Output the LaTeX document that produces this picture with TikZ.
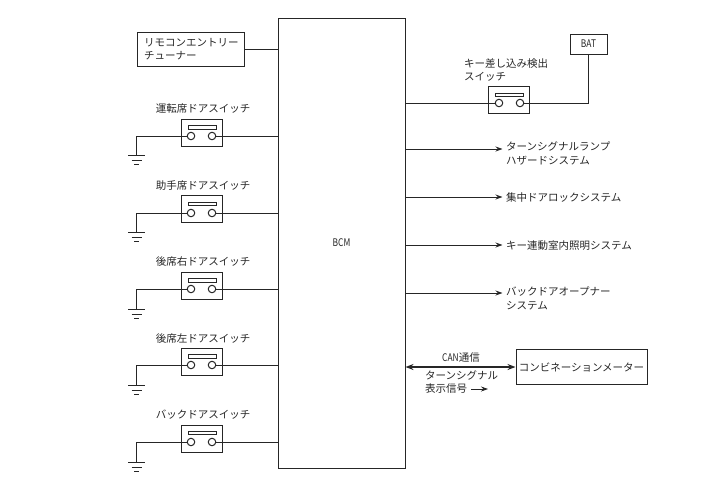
\documentclass[tikz,border=0pt]{standalone}
\usepackage{fontspec}
\setmainfont{Noto Sans CJK JP}
\usepackage{tikz}
\usetikzlibrary{arrows.meta, positioning}

\begin{document}
\begin{tikzpicture}[
    x=1pt, y=-1pt,
    every node/.style={font=\fontsize{10.5}{13.5}\selectfont, text=black!85},
    block/.style={draw=black!85, rectangle, line width=1pt, align=left, inner sep=0pt},
    swbox/.style={draw=black!85, rectangle, line width=1pt, minimum width=41pt, minimum height=27pt, inner sep=0pt},
    swbar/.style={draw=black!85, rectangle, line width=1pt, minimum width=28pt, minimum height=3.5pt, inner sep=0pt},
    contact/.style={draw=black!85, circle, line width=1pt, minimum size=7.5pt, inner sep=0pt},
    label/.style={inner sep=0pt, align=left, anchor=west},
    swlabel/.style={inner sep=0pt, align=center},
    wire/.style={draw=black!85, line width=1pt},
    arrow/.style={wire, -{Stealth[length=7pt, width=5pt]}},
    gnd/.pic={
        \draw[wire] (-8.5,0) -- (8.5,0);
        \draw[wire] (-5,5) -- (5,5);
        \draw[wire] (-2.5,9) -- (2.5,9);
    },
]
\useasboundingbox (0,0) rectangle (719,488);

% BCM
\node[block, align=center, minimum width=127pt, minimum height=450pt] (bcm) at (341.5,243) {\scalebox{0.8}[1]{BCM}};

% Remote entry tuner
\node[block, minimum width=107pt, minimum height=34pt, text width=93pt, inner xsep=7pt] (tuner) at (190.5,49) {リモコンエントリー\\チューナー};
\draw[wire] (tuner.east) -- (tuner.east -| bcm.west);

% Driver door switch
\node[swlabel] (sw1_text) at (203,109) {運転席ドアスイッチ};
\node[swbox] (sw1) at (201.5,133) {};
\node[swbar] (sw1_bar) at (202,127.5) {};
\node[contact] (sw1_a) at (191,136) {};
\node[contact] (sw1_b) at (212,136) {};
\coordinate (sw1_turn) at (136.5,136);
\coordinate (sw1_gnd) at (136.5,155);
\draw[wire] (sw1_a) -- (sw1_turn) -- (sw1_gnd);
\draw[wire] (sw1_b) -- (sw1_b -| bcm.west);
\pic at (sw1_gnd) {gnd};

% Passenger door switch
\node[swlabel] (sw2_text) at (203,185.5) {助手席ドアスイッチ};
\node[swbox] (sw2) at (201.5,209) {};
\node[swbar] (sw2_bar) at (202,204) {};
\node[contact] (sw2_a) at (191,213) {};
\node[contact] (sw2_b) at (212,213) {};
\coordinate (sw2_turn) at (136.5,213);
\coordinate (sw2_gnd) at (136.5,232);
\draw[wire] (sw2_a) -- (sw2_turn) -- (sw2_gnd);
\draw[wire] (sw2_b) -- (sw2_b -| bcm.west);
\pic at (sw2_gnd) {gnd};

% Rear right door switch
\node[swlabel] (sw3_text) at (203,262) {後席右ドアスイッチ};
\node[swbox] (sw3) at (201.5,285.5) {};
\node[swbar] (sw3_bar) at (202,280.5) {};
\node[contact] (sw3_a) at (191,289) {};
\node[contact] (sw3_b) at (212,289) {};
\coordinate (sw3_turn) at (136.5,289);
\coordinate (sw3_gnd) at (136.5,309);
\draw[wire] (sw3_a) -- (sw3_turn) -- (sw3_gnd);
\draw[wire] (sw3_b) -- (sw3_b -| bcm.west);
\pic at (sw3_gnd) {gnd};

% Rear left door switch
\node[swlabel] (sw4_text) at (203,338.5) {後席左ドアスイッチ};
\node[swbox] (sw4) at (201.5,361.5) {};
\node[swbar] (sw4_bar) at (202,356.5) {};
\node[contact] (sw4_a) at (191,365) {};
\node[contact] (sw4_b) at (212,365) {};
\coordinate (sw4_turn) at (136.5,365);
\coordinate (sw4_gnd) at (136.5,385);
\draw[wire] (sw4_a) -- (sw4_turn) -- (sw4_gnd);
\draw[wire] (sw4_b) -- (sw4_b -| bcm.west);
\pic at (sw4_gnd) {gnd};

% Back door switch
\node[swlabel] (sw5_text) at (203,415) {バックドアスイッチ};
\node[swbox] (sw5) at (201.5,438.5) {};
\node[swbar] (sw5_bar) at (202,433) {};
\node[contact] (sw5_a) at (191,442) {};
\node[contact] (sw5_b) at (212,442) {};
\coordinate (sw5_turn) at (136.5,442);
\coordinate (sw5_gnd) at (136.5,462);
\draw[wire] (sw5_a) -- (sw5_turn) -- (sw5_gnd);
\draw[wire] (sw5_b) -- (sw5_b -| bcm.west);
\pic at (sw5_gnd) {gnd};

% Key switch and battery
\node[label] (key_text) at (464,70) {キー差し込み検出\\スイッチ};
\node[swbox] (key) at (509,99.5) {};
\node[swbar] (key_bar) at (509.5,95) {};
\node[contact] (key_a) at (499,103) {};
\node[contact] (key_b) at (520,103) {};
\node[block, align=center, minimum width=37pt, minimum height=20pt] (bat) at (588.5,44) {\scalebox{0.8}[1]{BAT}};
\coordinate (bat_turn) at (bat.south |- key_b);
\draw[wire] (key_a) -- (key_a -| bcm.east);
\draw[wire] (key_b) -- (bat_turn) -- (bat.south);

% Outputs
\node[label] (turn_text) at (506,153.5) {ターンシグナルランプ\\ハザードシステム};
\coordinate (turn_end) at (502.5,149);
\draw[arrow] (turn_end -| bcm.east) -- (turn_end);

\node[label] (lock_text) at (506,197) {集中ドアロックシステム};
\coordinate (lock_end) at (502.5,197);
\draw[arrow] (lock_end -| bcm.east) -- (lock_end);

\node[label] (lamp_text) at (506,245.5) {キー連動室内照明システム};
\coordinate (lamp_end) at (502.5,245);
\draw[arrow] (lamp_end -| bcm.east) -- (lamp_end);

\node[label] (opener_text) at (506,298.5) {バックドアオープナー\\システム};
\coordinate (opener_end) at (502.5,293);
\draw[arrow] (opener_end -| bcm.east) -- (opener_end);

% CAN
\node[block, align=center, minimum width=131pt, minimum height=35pt] (meter) at (581.5,367) {コンビネーションメーター};
\draw[wire, line width=1.6pt, {Stealth[length=8pt, width=6pt]}-{Stealth[length=8pt, width=6pt]}] (meter.west -| bcm.east) -- (meter.west);
\node[swlabel] (can_text) at (461,358) {\scalebox{0.8}[1]{CAN}通信};
\node[label] (sig_text) at (425,382) {ターンシグナル\\表示信号};
\coordinate (sig_a) at (471,389);
\coordinate (sig_b) at (488,389);
\draw[arrow, line width=0.8pt] (sig_a) -- (sig_b);

\end{tikzpicture}
\end{document}
